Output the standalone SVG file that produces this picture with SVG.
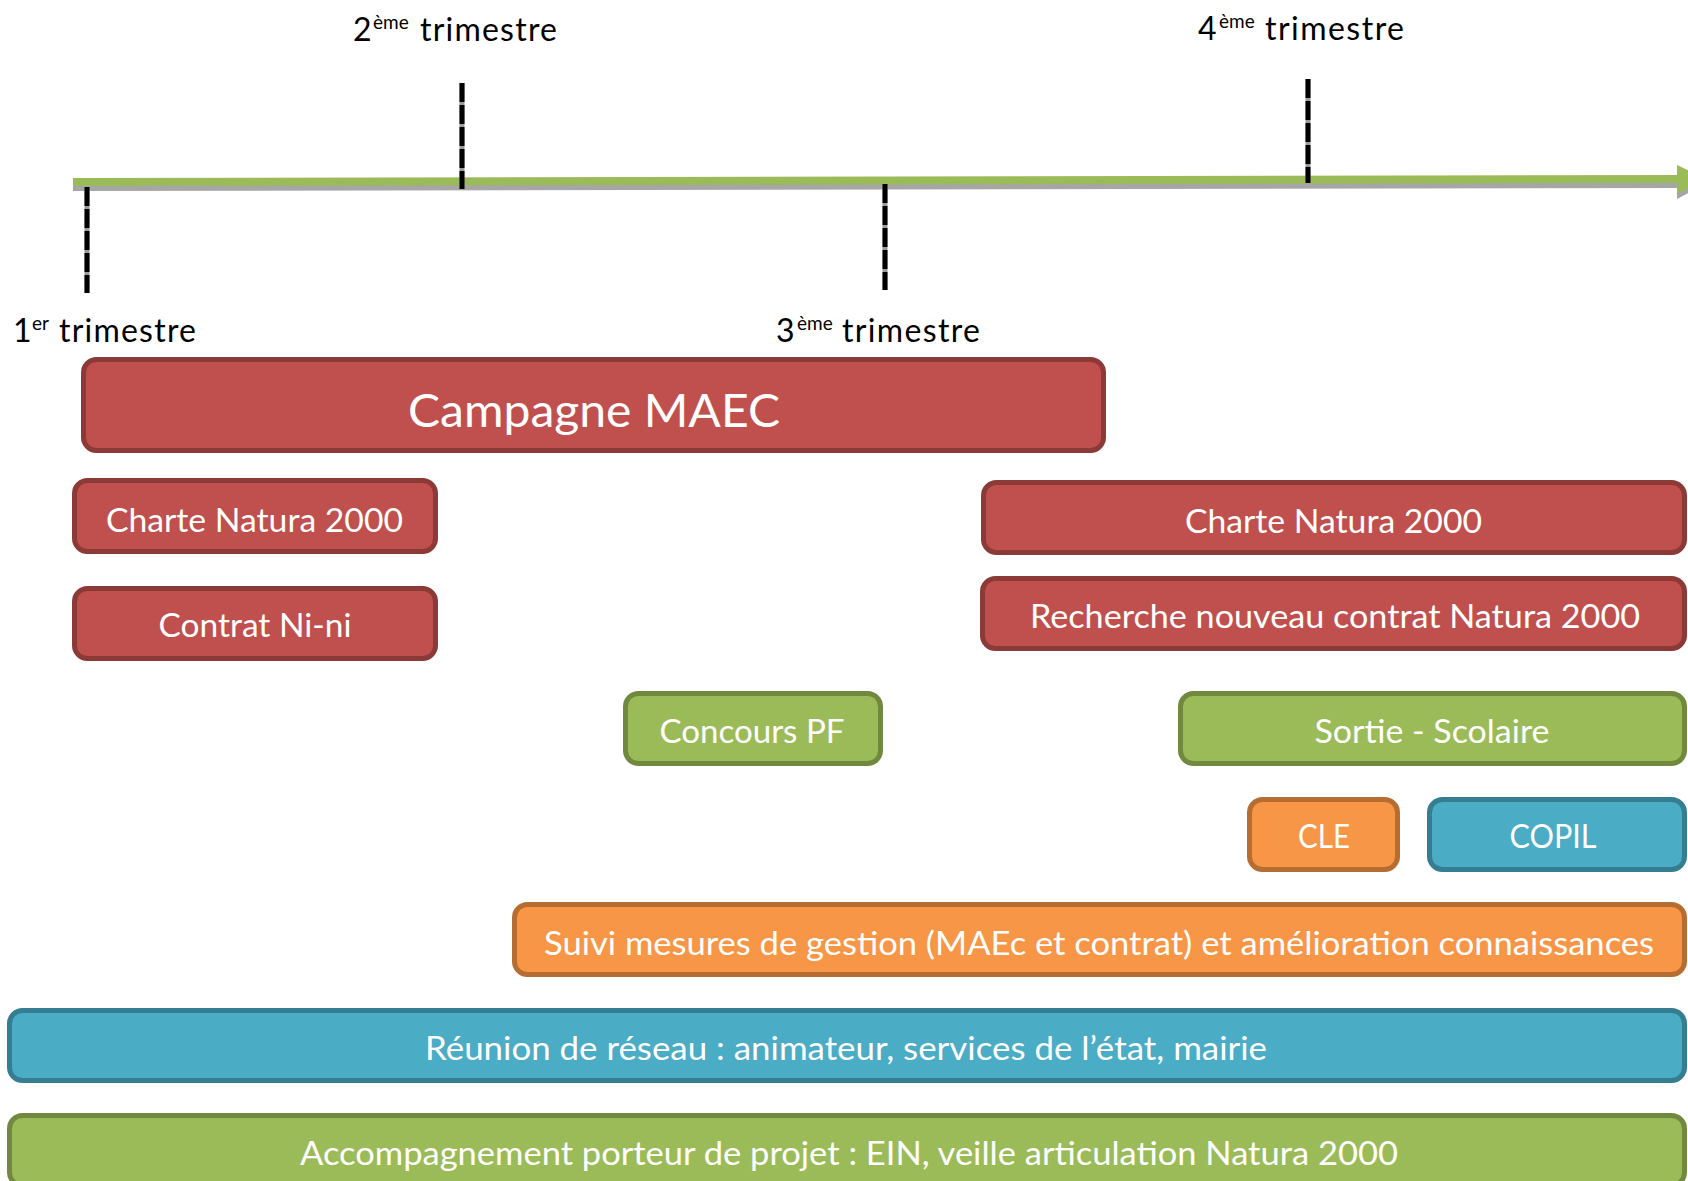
<svg xmlns="http://www.w3.org/2000/svg" width="1688" height="1181" viewBox="0 0 1688 1181">
<style>
.box{stroke-width:5}
.red{fill:#C0504D;stroke:#8C3A38}
.green{fill:#9BBB59;stroke:#71893F}
.orange{fill:#F79646;stroke:#B66D31}
.blue{fill:#4BACC6;stroke:#357D91}
.lbl{font-family:Lato,"Open Sans","Liberation Sans",sans-serif;fill:#FFFFFF;font-size:33px;text-anchor:middle}
.big{font-size:47px}
.tl{font-family:Lato,"Open Sans","Liberation Sans",sans-serif;fill:#000000;font-size:32px}
.sup{font-size:19px}
.tickbg{stroke:#9A9A9A;stroke-width:5}
.tick{stroke:#000000;stroke-width:5;stroke-dasharray:19 3}
</style>
<rect width="1688" height="1181" fill="#FFFFFF"/>
<g id="timeline">
  <line x1="73" y1="187" x2="1680" y2="184" stroke="#A6A6A6" stroke-width="8"/>
  <polygon points="1677,170 1706,184 1677,199" fill="#A6A6A6"/>
  <line x1="73" y1="182" x2="1680" y2="179" stroke="#9BBB59" stroke-width="8"/>
  <polygon points="1677,165 1706,179 1677,194" fill="#9BBB59"/>
</g>
<g id="connectors">
  <line class="tickbg" x1="87" y1="187" x2="87" y2="293"/>
  <line class="tick" x1="87" y1="187" x2="87" y2="293"/>
  <line class="tickbg" x1="462" y1="83" x2="462" y2="189"/>
  <line class="tick" x1="462" y1="83" x2="462" y2="189"/>
  <line class="tickbg" x1="885" y1="184" x2="885" y2="290"/>
  <line class="tick" x1="885" y1="184" x2="885" y2="290"/>
  <line class="tickbg" x1="1308" y1="79" x2="1308" y2="183"/>
  <line class="tick" x1="1308" y1="79" x2="1308" y2="183"/>
</g>
<g id="label-t1">
  <text class="tl"><tspan x="13" y="342">1</tspan><tspan class="sup" x="32" y="330">er </tspan><tspan x="59" y="342" textLength="137">trimestre</tspan></text>
</g>
<g id="label-t2">
  <text class="tl"><tspan x="353" y="41">2</tspan><tspan class="sup" x="373" y="29">ème </tspan><tspan x="420" y="41" textLength="137">trimestre</tspan></text>
</g>
<g id="label-t3">
  <text class="tl"><tspan x="776" y="342">3</tspan><tspan class="sup" x="797" y="330">ème </tspan><tspan x="842" y="342" textLength="138">trimestre</tspan></text>
</g>
<g id="label-t4">
  <text class="tl"><tspan x="1198" y="40">4</tspan><tspan class="sup" x="1219" y="28">ème </tspan><tspan x="1265" y="40" textLength="139">trimestre</tspan></text>
</g>
<g id="campagne-maec">
  <rect class="box red" x="83.5" y="359.5" width="1020" height="91" rx="13"/>
  <text class="lbl big" x="594" y="427" textLength="372" lengthAdjust="spacingAndGlyphs">Campagne MAEC</text>
</g>
<g id="charte-1">
  <rect class="box red" x="74.5" y="480.5" width="361" height="71" rx="13"/>
  <text class="lbl" x="254.5" y="532" textLength="297" lengthAdjust="spacingAndGlyphs">Charte Natura 2000</text>
</g>
<g id="contrat-nini">
  <rect class="box red" x="74.5" y="588.5" width="361" height="70" rx="13"/>
  <text class="lbl" x="255" y="637" textLength="193" lengthAdjust="spacingAndGlyphs">Contrat Ni-ni</text>
</g>
<g id="charte-2">
  <rect class="box red" x="983.5" y="482.5" width="701" height="70" rx="13"/>
  <text class="lbl" x="1333.5" y="533" textLength="297" lengthAdjust="spacingAndGlyphs">Charte Natura 2000</text>
</g>
<g id="recherche">
  <rect class="box red" x="982.5" y="578.5" width="702" height="70" rx="13"/>
  <text class="lbl" x="1335" y="628" textLength="610" lengthAdjust="spacingAndGlyphs">Recherche nouveau contrat Natura 2000</text>
</g>
<g id="concours-pf">
  <rect class="box green" x="625.5" y="693.5" width="255" height="70" rx="13"/>
  <text class="lbl" x="752" y="743" textLength="185" lengthAdjust="spacingAndGlyphs">Concours PF</text>
</g>
<g id="sortie-scolaire">
  <rect class="box green" x="1180.5" y="693.5" width="504" height="70" rx="13"/>
  <text class="lbl" x="1432" y="743" textLength="235" lengthAdjust="spacingAndGlyphs">Sortie - Scolaire</text>
</g>
<g id="cle">
  <rect class="box orange" x="1249.5" y="799.5" width="148" height="70" rx="13"/>
  <text class="lbl" x="1324" y="848" textLength="52" lengthAdjust="spacingAndGlyphs">CLE</text>
</g>
<g id="copil">
  <rect class="box blue" x="1429.5" y="799.5" width="255" height="70" rx="13"/>
  <text class="lbl" x="1553" y="848" textLength="87" lengthAdjust="spacingAndGlyphs">COPIL</text>
</g>
<g id="suivi">
  <rect class="box orange" x="514.5" y="904.5" width="1170" height="70" rx="13"/>
  <text class="lbl" x="1099" y="955" textLength="1110" lengthAdjust="spacingAndGlyphs">Suivi mesures de gestion (MAEc et contrat) et amélioration connaissances</text>
</g>
<g id="reunion">
  <rect class="box blue" x="9.5" y="1010.5" width="1675" height="70" rx="13"/>
  <text class="lbl" x="846" y="1060" textLength="842" lengthAdjust="spacingAndGlyphs">Réunion de réseau : animateur, services de l’état, mairie</text>
</g>
<g id="accompagnement">
  <rect class="box green" x="9.5" y="1115.5" width="1675" height="70" rx="13"/>
  <text class="lbl" x="849" y="1165" textLength="1098" lengthAdjust="spacingAndGlyphs">Accompagnement porteur de projet : EIN, veille articulation Natura 2000</text>
</g>
</svg>
